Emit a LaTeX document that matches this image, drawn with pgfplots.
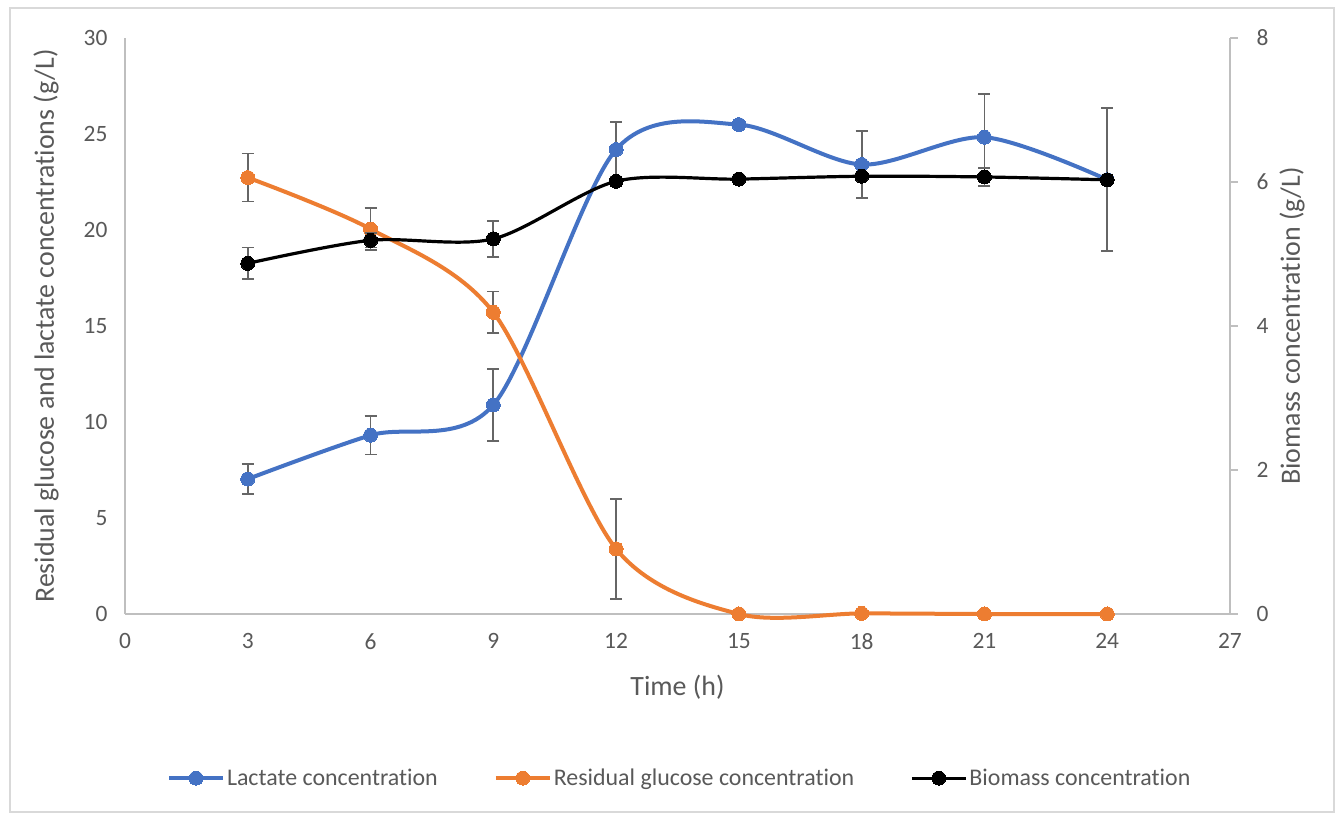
\documentclass[border=0pt]{standalone}
\usepackage{fontspec}
\setmainfont{Carlito}[Ligatures=NoCommon]
\usepackage{pgfplots}
\usepackage{pgfplotstable}
\pgfplotsset{compat=1.18}

\definecolor{lacblue}{HTML}{4472C4}
\definecolor{gluorange}{HTML}{ED7D31}
\definecolor{txtgray}{HTML}{595959}
\definecolor{axgray}{HTML}{BFBFBF}
\definecolor{errgray}{HTML}{666666}
\definecolor{framegray}{HTML}{D9D9D9}

% time (h), lactate and residual glucose (g/L) with standard deviations
\pgfplotstableread{
t  lac    lacerr  glu    gluerr
3  7.03   0.77    22.73  1.25
6  9.31   1.00    20.05  1.10
9  10.89  1.88    15.71  1.09
12 24.19  1.43    3.39   2.61
15 25.49  0.10    0.00   0.00
18 23.41  1.74    0.03   0.00
21 24.83  2.25    0.00   0.00
24 22.62  3.72    0.00   0.00
}\conc

% time (h), biomass (g/L) with standard deviation
\pgfplotstableread{
t  bio   bioerr
3  4.87  0.22
6  5.19  0.10
9  5.21  0.25
12 6.01  0.00
15 6.04  0.00
18 6.08  0.00
21 6.07  0.12
24 6.03  0.00
}\bio

\pgfplotsset{
  every axis/.append style={
    scale only axis, width=1105bp, height=576bp,
    at={(125bp,201bp)}, anchor=south west,
    xmin=0, xmax=27,
    clip=false,
    /pgf/number format/assume math mode=true,
    tick label style={text=txtgray, font=\fontsize{23.5}{28}\selectfont},
    label style={text=txtgray, font=\fontsize{28}{33}\selectfont},
  },
  errstyle/.style={
    error bars/.cd, y dir=both, y explicit,
    error bar style={errgray, line width=1.8bp},
    error mark options={rotate=90, errgray, line width=1.8bp, mark size=6bp},
  },
  lacstyle/.style={lacblue, line width=4bp, mark=*, mark size=7bp,
    mark options={fill=lacblue, draw=lacblue, line width=0pt}},
  glustyle/.style={gluorange, line width=4bp, mark=*, mark size=7bp,
    mark options={fill=gluorange, draw=gluorange, line width=0pt}},
  biostyle/.style={black, line width=3.2bp, mark=*, mark size=7bp,
    mark options={fill=black, draw=black, line width=0pt}},
}

\begin{document}
\begin{tikzpicture}
\useasboundingbox (0,0) rectangle (1338bp,815bp);
\fill[white] (0,0) rectangle (1338bp,815bp);
\draw[framegray, line width=1.2bp] (10bp,3bp) rectangle (1334bp,807bp);

% left axis: lactate and residual glucose
\begin{axis}[
  axis x line*=bottom, axis y line*=left,
  axis line style={axgray, line width=1.5bp, -},
  ymin=0, ymax=30, ytick={0,5,...,30},
  xtick={0,3,...,27},
  major tick length=0pt,
  yticklabel style={xshift=-14bp},
  xticklabel style={yshift=-16bp},
  xlabel={Time (h)},
  ylabel={Residual glucose and lactate concentrations (g/L)},
  xlabel style={at={(axis description cs:0.5,-0.128)}, anchor=center},
  ylabel style={at={(axis description cs:-0.0715,0.5)}, anchor=center},
]
\addplot[lacstyle, smooth, errstyle] table[x=t, y=lac, y error=lacerr] {\conc};
\addplot[glustyle, smooth, errstyle] table[x=t, y=glu, y error=gluerr] {\conc};
\end{axis}

% right axis: biomass
\begin{axis}[
  axis x line=none, axis y line*=right,
  axis line style={axgray, line width=1.5bp, -},
  ymin=0, ymax=8, ytick={0,2,...,8},
  tick align=outside, major tick length=8bp,
  ytick style={axgray, line width=1.5bp},
  yticklabel style={xshift=15bp},
  ylabel={Biomass concentration (g/L)},
  ylabel style={at={(axis description cs:1.0561,0.5)}, anchor=center},
  legend columns=3,
  legend cell align=left,
  legend style={draw=none, fill=none, at={(0.502,-0.285)}, anchor=center,
    font=\fontsize{24}{29}\selectfont, text=txtgray,
    nodes={inner sep=2bp},
    /tikz/every even column/.append style={column sep=54bp}},
  legend image code/.code={
    \draw[mark repeat=2, mark phase=2, #1]
      plot coordinates {(0bp,0bp) (27bp,0bp) (54bp,0bp)};},
]
\addlegendimage{lacstyle}
\addlegendentry{Lactate concentration}
\addlegendimage{glustyle}
\addlegendentry{Residual glucose concentration}
\addplot[biostyle, smooth, errstyle] table[x=t, y=bio, y error=bioerr] {\bio};
\addlegendentry{Biomass concentration}
\end{axis}
\end{tikzpicture}
\end{document}
